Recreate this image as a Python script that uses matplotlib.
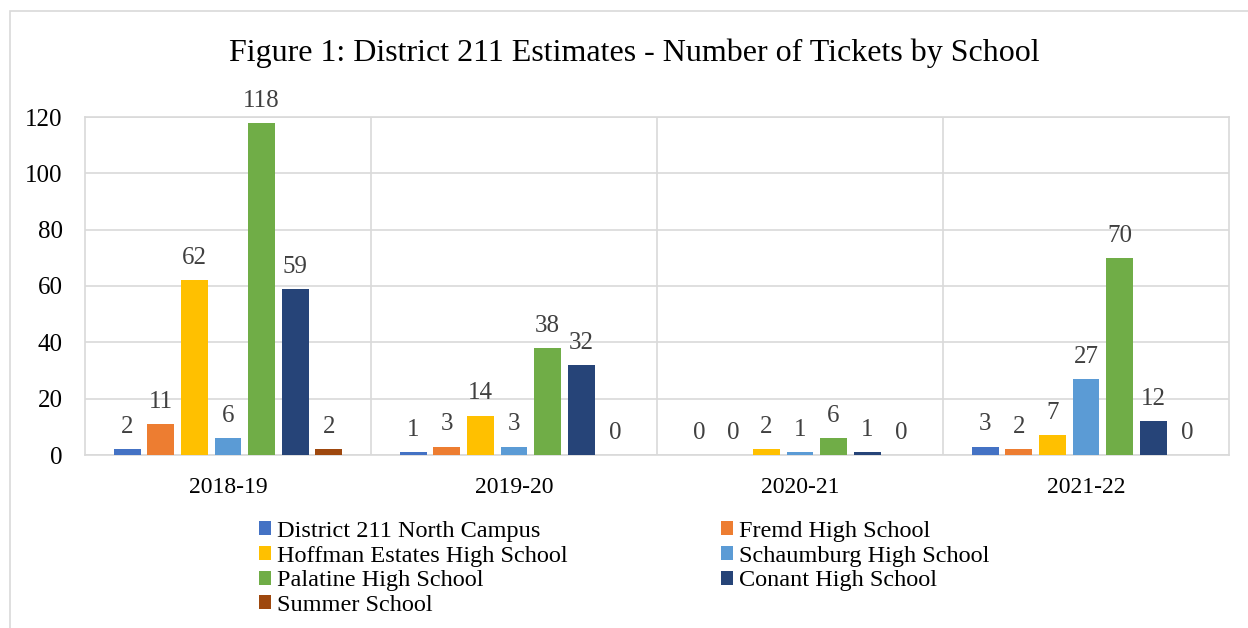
import matplotlib
matplotlib.use("Agg")
import matplotlib.pyplot as plt
import matplotlib.patches as mpatches
import numpy as np

plt.rcParams['font.family'] = ['Liberation Serif', 'DejaVu Serif']

years = ['2018-19', '2019-20', '2020-21', '2021-22']
schools = ['District 211 North Campus', 'Fremd High School',
           'Hoffman Estates High School', 'Schaumburg High School',
           'Palatine High School', 'Conant High School', 'Summer School']
colors = ['#4472C4', '#ED7D31', '#FFC000', '#5B9BD5', '#70AD47', '#264478', '#9E480E']

north_campus = [2, 1, 0, 3]
fremd = [11, 3, 0, 2]
hoffman = [62, 14, 2, 7]
schaumburg = [6, 3, 1, 27]
palatine = [118, 38, 6, 70]
conant = [59, 32, 1, 12]
summer = [2, 0, 0, 0]
values = [north_campus, fremd, hoffman, schaumburg, palatine, conant, summer]

fig = plt.figure(figsize=(12.48, 6.28), dpi=100)
# outer chart border
fig.patches.append(mpatches.Rectangle((10/1248, -0.05), 1.1, 1 - 11/628 + 0.05,
                                      transform=fig.transFigure, fill=False,
                                      edgecolor='#d9d9d9', linewidth=1.2))

ax = fig.add_axes([85/1248, 1 - 455/628, (1229 - 85)/1248, (455 - 117)/628])

x = np.arange(len(years))
slot = 0.1175
width = 0.094
grey = '#d9d9d9'
handles = []
for i, (name, vals) in enumerate(zip(schools, values)):
    pos = x + (i - 3) * slot
    bars = ax.bar(pos, vals, width, color=colors[i], label=name, zorder=3)
    handles.append(bars)
    for p, v in zip(pos, vals):
        ax.annotate(str(v), (p, v), xytext=(0, 8), textcoords='offset points',
                    ha='center', va='bottom', fontsize=18, color='#404040')

ax.set_xlim(-0.5, 3.5)
ax.set_ylim(0, 120)
ax.set_yticks(range(0, 121, 20))
ax.set_xticks(x)
ax.set_xticklabels(years, fontsize=17)
ax.set_xticks([0.5, 1.5, 2.5], minor=True)
ax.grid(axis='y', color=grey, linewidth=1.2, zorder=0)
ax.grid(axis='x', which='minor', color=grey, linewidth=1.2, zorder=0)
ax.tick_params(axis='both', which='both', length=0)
ax.tick_params(axis='y', labelsize=18, pad=16)
ax.tick_params(axis='x', pad=16)
for s in ax.spines.values():
    s.set_color(grey)
    s.set_linewidth(1.2)

fig.text(634/1248, 1 - 61/628, 'Figure 1: District 211 Estimates - Number of Tickets by School',
         ha='center', va='baseline', fontsize=23)

order = [0, 2, 4, 6, 1, 3, 5]
fig.legend([handles[i] for i in order], [schools[i] for i in order], ncol=2,
           loc='upper left', bbox_to_anchor=(242/1248, 1 - 504/628), frameon=False,
           fontsize=17.5, handlelength=0.5, handleheight=0.5, handletextpad=0.25,
           columnspacing=6.3, labelspacing=0.15, borderpad=0.2)

fig.savefig('out.png', dpi=100)
